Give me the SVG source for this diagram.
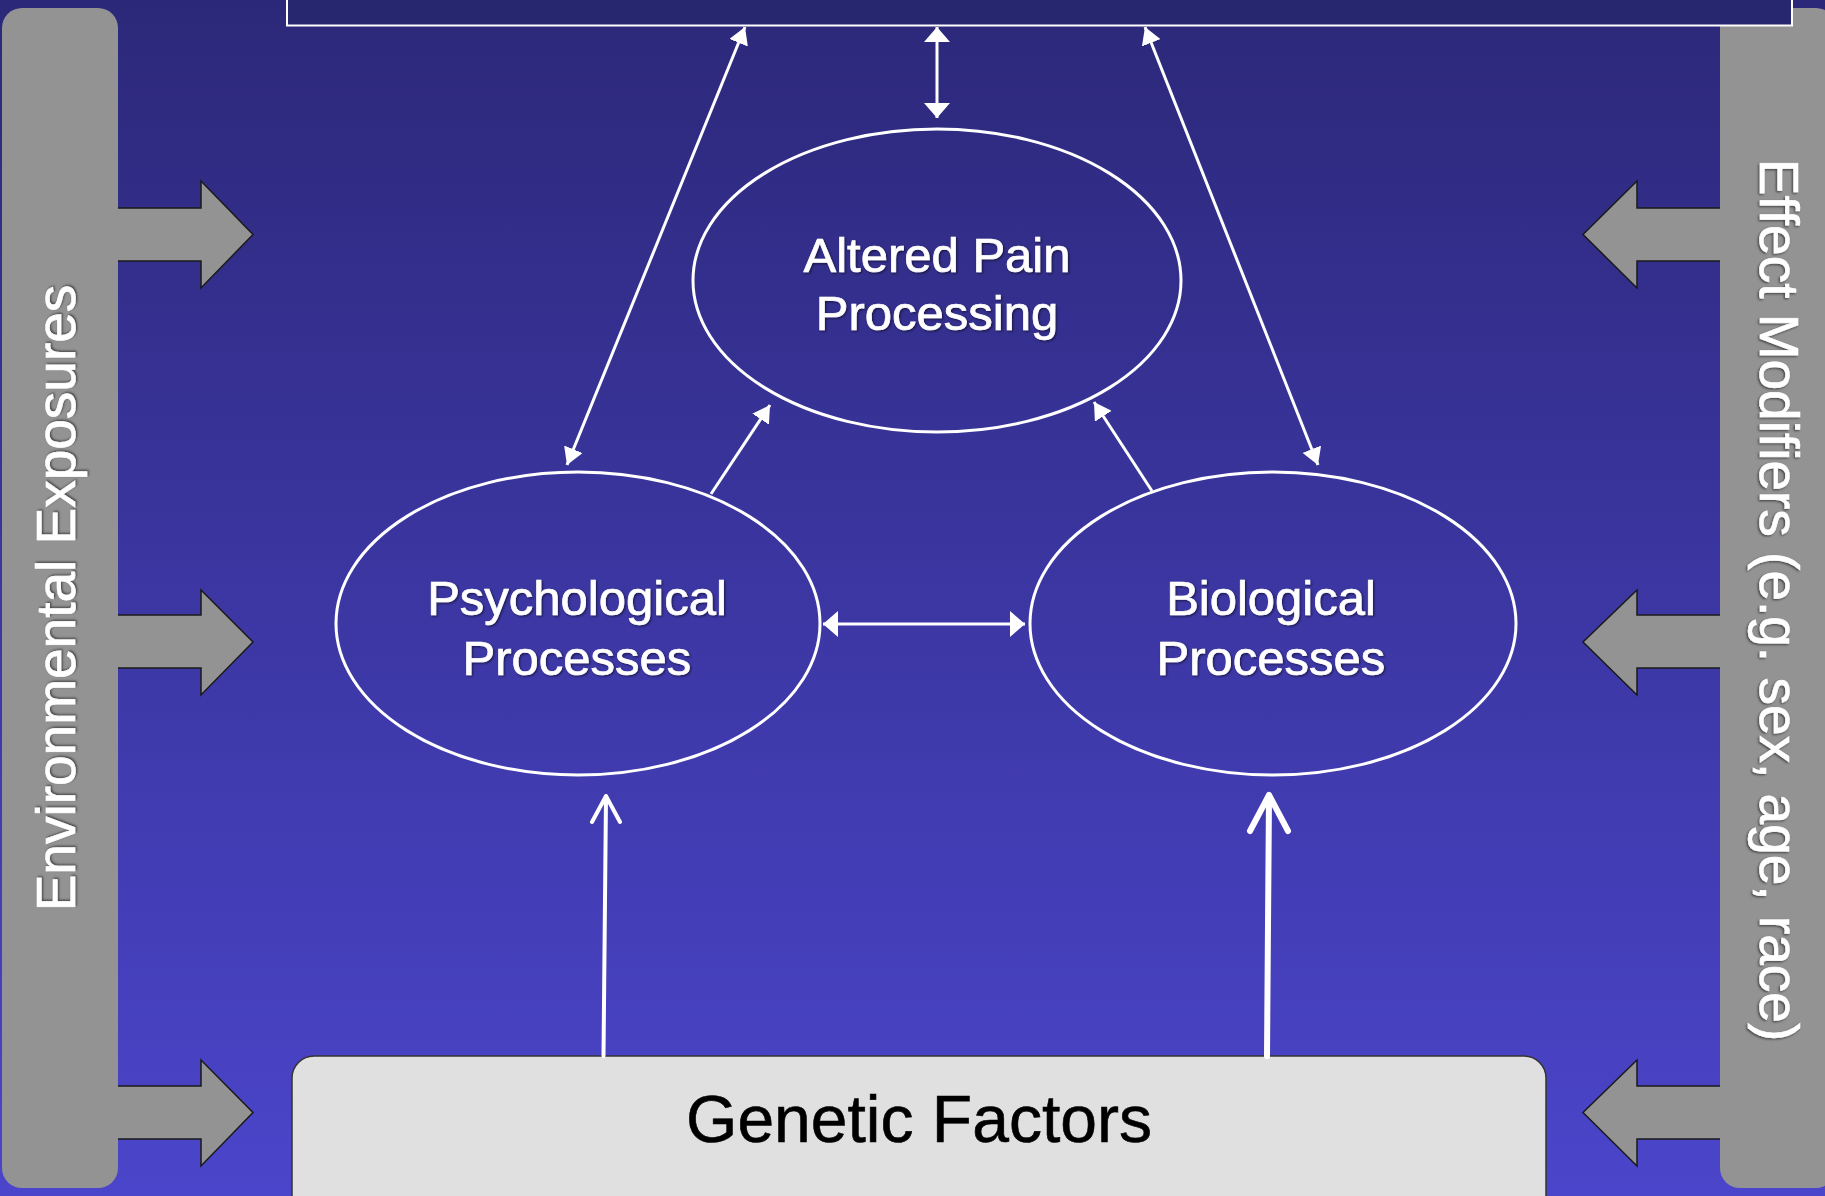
<svg xmlns="http://www.w3.org/2000/svg" width="1825" height="1196" viewBox="0 0 1825 1196">
  <defs>
    <linearGradient id="bg" x1="0" y1="0" x2="0" y2="1">
      <stop offset="0" stop-color="#2c2879"/>
      <stop offset="1" stop-color="#4b45cb"/>
    </linearGradient>
    <filter id="shadow" x="-5%" y="-20%" width="110%" height="140%">
      <feDropShadow dx="1.2" dy="1.2" stdDeviation="0.8" flood-color="#000000" flood-opacity="0.55"/>
    </filter>
    <marker id="headW" markerUnits="userSpaceOnUse" viewBox="-15 -13 16 26" refX="0" refY="0" markerWidth="16" markerHeight="26" orient="auto-start-reverse">
      <path d="M0,0 L-15,-13 L-15,13 Z" fill="#ffffff"/>
    </marker>
    <marker id="headN" markerUnits="userSpaceOnUse" viewBox="-17 -10 18 20" refX="0" refY="0" markerWidth="18" markerHeight="20" orient="auto-start-reverse">
      <path d="M0,0 L-17,-10 L-17,10 Z" fill="#ffffff"/>
    </marker>
  </defs>
  <style>
    .bar { fill: #939393; }
    .arrowFill { fill: #939393; stroke: none; }
    .arrowEdge { fill: none; stroke: #1a1a1a; stroke-width: 1.5; stroke-linejoin: miter; }
    .node { fill: none; stroke: #ffffff; stroke-width: 3; }
    .lbl { font-family: "Liberation Sans", Arial, Helvetica, sans-serif; fill: #ffffff; stroke: #ffffff; stroke-width: 0.7; text-anchor: middle; filter: url(#shadow); }
    .conn { stroke: #ffffff; stroke-width: 3; fill: none; }
    .gen { stroke: #ffffff; fill: none; stroke-linecap: round; stroke-linejoin: round; }
  </style>

  <rect x="0" y="0" width="1825" height="1196" fill="url(#bg)"/>

  <g id="environmental-exposures">
    <rect class="bar" x="2" y="8" width="116" height="1180" rx="20" ry="20"/>
    <polygon class="arrowFill" points="116,208 201,208 201,181 253,234.5 201,288 201,261 116,261"/>
    <polyline class="arrowEdge" points="118,208 201,208 201,181 253,234.5 201,288 201,261 118,261"/>
    <polygon class="arrowFill" points="116,615 201,615 201,590 253,642 201,695 201,668 116,668"/>
    <polyline class="arrowEdge" points="118,615 201,615 201,590 253,642 201,695 201,668 118,668"/>
    <polygon class="arrowFill" points="116,1086 201,1086 201,1060 253,1112.5 201,1166 201,1139 116,1139"/>
    <polyline class="arrowEdge" points="118,1086 201,1086 201,1060 253,1112.5 201,1166 201,1139 118,1139"/>
    <text class="lbl" font-size="55" transform="translate(75,598) rotate(-90)">Environmental Exposures</text>
  </g>

  <g id="effect-modifiers">
    <rect class="bar" x="1720" y="8" width="116" height="1180" rx="20" ry="20"/>
    <polygon class="arrowFill" points="1722,208 1637,208 1637,181 1583,234.5 1637,288 1637,261 1722,261"/>
    <polyline class="arrowEdge" points="1720,208 1637,208 1637,181 1583,234.5 1637,288 1637,261 1720,261"/>
    <polygon class="arrowFill" points="1722,615 1637,615 1637,590 1583,642 1637,695 1637,668 1722,668"/>
    <polyline class="arrowEdge" points="1720,615 1637,615 1637,590 1583,642 1637,695 1637,668 1720,668"/>
    <polygon class="arrowFill" points="1722,1086 1637,1086 1637,1060 1583,1112.5 1637,1166 1637,1139 1722,1139"/>
    <polyline class="arrowEdge" points="1720,1086 1637,1086 1637,1060 1583,1112.5 1637,1166 1637,1139 1720,1139"/>
    <text class="lbl" font-size="55" transform="translate(1760,600) rotate(90)">Effect Modifiers (e.g. sex, age, race)</text>
  </g>

  <g id="top-box">
    <rect x="287" y="-20" width="1505" height="45.5" fill="#27276f" stroke="#ffffff" stroke-width="2"/>
  </g>

  <g id="altered-pain-processing">
    <ellipse class="node" cx="937" cy="280.5" rx="244" ry="151.5"/>
    <text class="lbl" font-size="49" x="937" y="272">Altered Pain</text>
    <text class="lbl" font-size="49" x="937" y="330">Processing</text>
  </g>

  <g id="psychological-processes">
    <ellipse class="node" cx="578" cy="623.5" rx="242" ry="151.5"/>
    <text class="lbl" font-size="49" x="577" y="615">Psychological</text>
    <text class="lbl" font-size="49" x="577" y="675">Processes</text>
  </g>

  <g id="biological-processes">
    <ellipse class="node" cx="1273" cy="623.5" rx="243" ry="151.5"/>
    <text class="lbl" font-size="49" x="1271" y="615">Biological</text>
    <text class="lbl" font-size="49" x="1271" y="675">Processes</text>
  </g>

  <g id="genetic-factors">
    <rect x="292" y="1056" width="1254" height="190" rx="22" ry="22" fill="#e0e0e0" stroke="#333333" stroke-width="1.5"/>
    <text font-family="'Liberation Sans', Arial, Helvetica, sans-serif" font-size="66" fill="#000000" stroke="#000000" stroke-width="0.6" text-anchor="middle" x="919" y="1142">Genetic Factors</text>
  </g>

  <g id="connectors">
    <line class="conn" x1="937" y1="27" x2="937" y2="118" marker-start="url(#headW)" marker-end="url(#headW)"/>
    <line class="conn" x1="745" y1="27" x2="567" y2="465" marker-start="url(#headN)" marker-end="url(#headN)"/>
    <line class="conn" x1="1145" y1="27" x2="1318" y2="465" marker-start="url(#headN)" marker-end="url(#headN)"/>
    <line class="conn" x1="711" y1="494" x2="770" y2="405" marker-end="url(#headN)"/>
    <line class="conn" x1="1152" y1="491" x2="1094" y2="402" marker-end="url(#headN)"/>
    <line class="conn" x1="823" y1="624" x2="1025" y2="624" marker-start="url(#headW)" marker-end="url(#headW)"/>
    <path class="gen" stroke-width="4" d="M603.5,1056 L606,796 M592,822 L606,796 L620,822"/>
    <path class="gen" stroke-width="6" d="M1267,1056 L1269,795 M1250,831 L1269,795 L1288,831"/>
  </g>
</svg>
